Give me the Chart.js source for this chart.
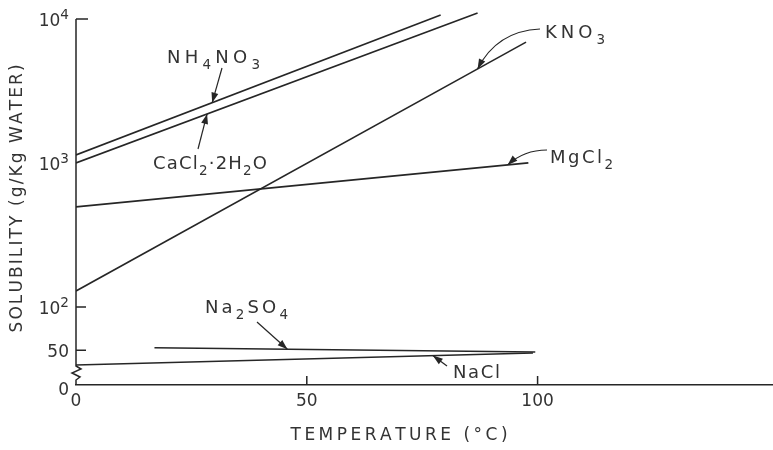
<!DOCTYPE html>
<html>
<head>
<meta charset="utf-8">
<script src="https://cdn.jsdelivr.net/npm/chart.js@4.4.1/dist/chart.umd.min.js"></script>
<style>
  html, body { margin: 0; padding: 0; background: #fff; }
  #wrap { width: 773px; height: 450px; position: relative; }
</style>
</head>
<body>
<div id="wrap"><canvas id="solubilityChart"></canvas></div>
<script>
// Solubility (g/kg water) against temperature (C)
const nh4no3T = [0, 79];
const nh4no3S = [1136, 10660];
const cacl2T = [0, 87];
const cacl2S = [1000, 11000];
const kno3T = [0, 97.5];
const kno3S = [129, 6900];
const mgcl2T = [0, 98];
const mgcl2S = [495, 1000];
const na2so4T = [17, 99.5];
const na2so4S = [52, 48.7];
const naclT = [0, 99];
const naclS = [39.5, 47.9];

// axis ticks (the bottom of the broken axis is labelled 0)
const xTicks = [0, 50, 100];
const yMin = 28.7;
const yMax = 11900;
const yTicks = [yMin, 50, 100, 1000, 10000];
// '^' marks a superscript
const yTickLabels = ['0', '50', '10^2', '10^3', '10^4'];

const INK = '#262626';
const FONT = '"DejaVu Sans", sans-serif';

function toPoints(ts, ss) {
    return ts.map((t, i) => ({ x: t, y: ss[i] }));
}

const seriesList = [
    { name: 'NH_4NO_3', t: nh4no3T, s: nh4no3S },
    { name: 'CaCl_2·2H_2O', t: cacl2T, s: cacl2S },
    { name: 'KNO_3', t: kno3T, s: kno3S },
    { name: 'MgCl_2', t: mgcl2T, s: mgcl2S },
    { name: 'Na_2SO_4', t: na2so4T, s: na2so4S },
    { name: 'NaCl', t: naclT, s: naclS }
];

// label placement: text box (left, baseline, width), arrow start and where it hits the curve
const callouts = [
    { ds: 0, lx: 167, ly: 63, w: 93, from: [222, 68], at: 29.5 },
    { ds: 1, lx: 153, ly: 169, w: 114, from: [198, 149], at: 28.4 },
    { ds: 2, lx: 545, ly: 38, w: 60, from: [540, 29], ctrl: [497, 31], at: 87 },
    { ds: 3, lx: 550, ly: 163, w: 63, from: [547, 150], ctrl: [524, 150], at: 93.5 },
    { ds: 4, lx: 205, ly: 313, w: 83, from: [257, 322], at: 45.8 },
    { ds: 5, lx: 453, ly: 378, w: 47, from: [447, 366], at: 77.3 }
];

// 'A_2' -> subscript 2, 'A^2' -> superscript 2
function parseRich(str) {
    let out = [];
    for (let i = 0; i < str.length; i++) {
        if (str[i] === '_') { out.push([str[i + 1], 1]); i++; }
        else if (str[i] === '^') { out.push([str[i + 1], -1]); i++; }
        else out.push([str[i], 0]);
    }
    return out;
}

function richFont(c, size) {
    return (c[1] === 1 ? size * 0.75 : c[1] === -1 ? size * 0.8 : size) + 'px ' + FONT;
}

function richWidth(ctx, chars, size) {
    let w = 0;
    chars.forEach(c => { ctx.font = richFont(c, size); w += ctx.measureText(c[0]).width; });
    return w;
}

function drawRich(ctx, str, x, y, size, width) {
    let chars = parseRich(str);
    let natural = richWidth(ctx, chars, size);
    let gap = width && chars.length > 1 ? (width - natural) / (chars.length - 1) : 0;
    let cx = x;
    chars.forEach(c => {
        ctx.font = richFont(c, size);
        let dy = c[1] === 1 ? size * 0.32 : c[1] === -1 ? -size * 0.4 : 0;
        ctx.fillText(c[0], cx, y + dy);
        cx += ctx.measureText(c[0]).width + gap;
    });
}

function spacedText(ctx, str, cx, cy, size, width) {
    ctx.font = size + 'px ' + FONT;
    let natural = ctx.measureText(str).width;
    let gap = (width - natural) / (str.length - 1);
    let x = cx - width / 2;
    ctx.textBaseline = 'middle';
    for (const ch of str) {
        ctx.fillText(ch, x, cy);
        x += ctx.measureText(ch).width + gap;
    }
    ctx.textBaseline = 'alphabetic';
}

function arrowHead(ctx, tip, from, len, half) {
    let dx = tip[0] - from[0], dy = tip[1] - from[1];
    let d = Math.hypot(dx, dy);
    dx /= d; dy /= d;
    ctx.beginPath();
    ctx.moveTo(tip[0], tip[1]);
    ctx.lineTo(tip[0] - dx * len - dy * half, tip[1] - dy * len + dx * half);
    ctx.lineTo(tip[0] - dx * len + dy * half, tip[1] - dy * len - dx * half);
    ctx.closePath();
    ctx.fill();
}

const decorPlugin = {
    id: 'decor',
    afterDraw(chart) {
        const { ctx, chartArea, scales: { x, y } } = chart;
        ctx.save();
        ctx.strokeStyle = INK;
        ctx.fillStyle = INK;
        ctx.lineWidth = 1.5;

        // y axis with the break near the bottom
        let L = chartArea.left, B = chartArea.bottom;
        let top = y.getPixelForValue(10000);
        ctx.beginPath();
        ctx.moveTo(L, top);
        ctx.lineTo(L, B - 19);
        ctx.lineTo(L + 5, B - 16);
        ctx.lineTo(L - 4, B - 12);
        ctx.lineTo(L + 4, B - 8);
        ctx.lineTo(L, B - 5);
        ctx.lineTo(L, B);
        ctx.stroke();

        // inward ticks
        ctx.beginPath();
        [10000, 100, 50].forEach(v => {
            let py = y.getPixelForValue(v);
            ctx.moveTo(L, py);
            ctx.lineTo(L + (v === 10000 ? 12 : 10), py);
        });
        xTicks.slice(1).forEach(v => {
            let px = x.getPixelForValue(v);
            ctx.moveTo(px, B);
            ctx.lineTo(px, B - 9);
        });
        ctx.stroke();

        // y tick labels, right aligned against the axis
        ctx.fillStyle = '#333';
        yTicks.forEach((v, i) => {
            let chars = parseRich(yTickLabels[i]);
            let w = richWidth(ctx, chars, 17);
            let py = y.getPixelForValue(v) + (i === 0 ? 10 : 7);
            drawRich(ctx, yTickLabels[i], L - 7 - w, py, 17, 0);
        });

        // axis titles
        spacedText(ctx, 'TEMPERATURE (°C)', 398, 436, 17, 215);
        ctx.save();
        ctx.translate(18, 200);
        ctx.rotate(-Math.PI / 2);
        spacedText(ctx, 'SOLUBILITY (g/Kg WATER)', 0, 0, 17, 265);
        ctx.restore();

        // curve labels and arrows
        ctx.lineWidth = 1.2;
        callouts.forEach(c => {
            let sr = seriesList[c.ds];
            let f = (c.at - sr.t[0]) / (sr.t[1] - sr.t[0]);
            let logS = Math.log10(sr.s[0]) + f * (Math.log10(sr.s[1]) - Math.log10(sr.s[0]));
            let tip = [x.getPixelForValue(c.at), y.getPixelForValue(Math.pow(10, logS))];
            ctx.fillStyle = '#333';
            drawRich(ctx, sr.name, c.lx, c.ly, 18, c.w);
            ctx.fillStyle = INK;
            ctx.beginPath();
            ctx.moveTo(c.from[0], c.from[1]);
            if (c.ctrl) ctx.quadraticCurveTo(c.ctrl[0], c.ctrl[1], tip[0], tip[1]);
            else ctx.lineTo(tip[0], tip[1]);
            ctx.stroke();
            arrowHead(ctx, tip, c.ctrl || c.from, 10, 3.5);
        });
        ctx.restore();
    }
};

const chart = new Chart(document.getElementById('solubilityChart').getContext('2d'), {
    type: 'line',
    data: {
        datasets: seriesList.map(sr => ({
            label: sr.name.replace(/_/g, ''),
            data: toPoints(sr.t, sr.s),
            borderColor: INK,
            borderWidth: 1.6,
            pointRadius: 0,
            fill: false,
            tension: 0
        }))
    },
    options: {
        responsive: true,
        maintainAspectRatio: false,
        animation: false,
        layout: { padding: { top: 8, right: 0, bottom: 0, left: 0 } },
        plugins: {
            legend: { display: false },
            tooltip: { enabled: false }
        },
        scales: {
            x: {
                type: 'linear',
                min: 0,
                max: 151,
                grid: { display: false, drawTicks: false },
                border: { display: true, color: INK, width: 1.5 },
                ticks: { color: '#333', font: { family: FONT, size: 17 }, padding: 6, maxRotation: 0 },
                afterBuildTicks: s => { s.ticks = xTicks.map(v => ({ value: v })); },
                afterFit: s => { s.height = 65; }
            },
            y: {
                type: 'logarithmic',
                min: yMin,
                max: yMax,
                grid: { display: false, drawTicks: false },
                border: { display: false },
                ticks: { display: false },
                afterBuildTicks: s => { s.ticks = yTicks.map(v => ({ value: v })); },
                afterFit: s => { s.width = 76; }
            }
        }
    },
    plugins: [decorPlugin]
});
</script>
</body>
</html>
